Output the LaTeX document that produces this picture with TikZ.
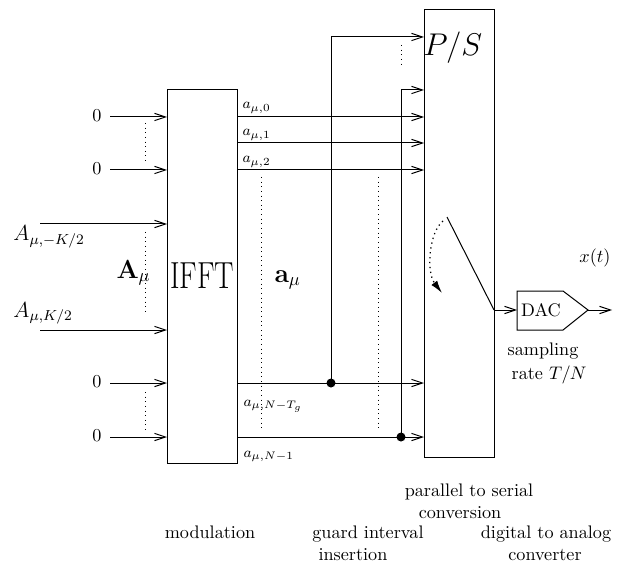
\documentclass[tikz,border=0pt]{standalone}
\usepackage{amsmath}
\usepackage{graphicx}
\usetikzlibrary{arrows.meta}
\begin{document}
\begin{tikzpicture}[x=0.55pt,y=-0.55pt,
  line width=0.55pt,
  arr/.style={-{Straight Barb[length=6pt,width=4pt]}},
  dotl/.style={dotted, line width=0.55pt},
  lbl/.style={inner sep=0pt},
  dotfill/.style={fill=black},
  ]
\useasboundingbox (0,0) rectangle (627,569);
% ---------- blocks
\coordinate (ifftNW) at (167,90);
\coordinate (ifftSE) at (237,463);
\draw (ifftNW) rectangle (ifftSE);
\coordinate (psNW) at (424,10);
\coordinate (psSE) at (494,457);
\draw (psNW) rectangle (psSE);
\node[lbl, anchor=base] (ifft) at (202,288) {\scalebox{0.77}[1]{\huge IFFT}};
\node[lbl, anchor=base] (pstext) at (453,56) {\LARGE $P/S$};
% ---------- inputs
\foreach \n/\y/\x in {i1/117/110, i2/170/110, i3/224/40, i4/330/40, i5/383/110, i6/437/110} {
  \coordinate (\n s) at (\x,\y);
  \coordinate (\n e) at (167,\y);
  \draw[arr] (\n s) -- (\n e);
}
\node[lbl] (z1) at (97,116) {0};
\node[lbl] (z2) at (97,169) {0};
\node[lbl] (z5) at (97,382) {0};
\node[lbl] (z6) at (97,436) {0};
\node[lbl, anchor=base west] (am) at (13,241) {\large $A_{\mu,-K/2}$};
\node[lbl, anchor=base west] (ap) at (13,317) {\large $A_{\mu,K/2}$};
\node[lbl, anchor=base west] (Amu) at (116,278) {\Large $\mathbf{A}_{\mu}$};
% left dotted
\coordinate (d1a) at (145,123); \coordinate (d1b) at (145,163);
\coordinate (d2a) at (145,232); \coordinate (d2b) at (145,312);
\coordinate (d3a) at (145,392); \coordinate (d3b) at (145,430);
\draw[dotl] (d1a) -- (d1b);
\draw[dotl] (d2a) -- (d2b);
\draw[dotl] (d3a) -- (d3b);
% ---------- outputs
\foreach \n/\y in {o1/117, o2/143, o3/170, o4/383, o5/437} {
  \coordinate (\n s) at (237,\y);
  \coordinate (\n e) at (424,\y);
  \draw[arr] (\n s) -- (\n e);
}
\node[lbl, anchor=base west] (a0) at (242,109) {\footnotesize $a_{\mu,0}$};
\node[lbl, anchor=base west] (a1) at (242,136) {\footnotesize $a_{\mu,1}$};
\node[lbl, anchor=base west] (a2) at (242,163) {\footnotesize $a_{\mu,2}$};
\node[lbl, anchor=base west] (aNT) at (243,406) {\footnotesize $a_{\mu,N-T_g}$};
\node[lbl, anchor=base west] (aN1) at (243,457) {\footnotesize $a_{\mu,N-1}$};
\node[lbl, anchor=base west] (amu) at (274,282) {\Large $\mathbf{a}_{\mu}$};
% middle dotted
\coordinate (m1a) at (261,177); \coordinate (m1b) at (261,428);
\coordinate (m2a) at (378,177); \coordinate (m2b) at (378,428);
\coordinate (m3a) at (401,45);  \coordinate (m3b) at (401,68);
\draw[dotl] (m1a) -- (m1b);
\draw[dotl] (m2a) -- (m2b);
\draw[dotl] (m3a) -- (m3b);
% ---------- guard interval
\coordinate (g1) at (331,383);
\coordinate (ps1) at (424,37);
\coordinate (g2) at (401,437);
\coordinate (ps2) at (424,90);
\draw[arr] (g1) |- (ps1);
\draw[arr] (g2) |- (ps2);
\fill[dotfill] (g1) circle[radius=4.5];
\fill[dotfill] (g2) circle[radius=4.5];
% ---------- switch
\coordinate (sw1) at (447,217);
\coordinate (sw2) at (494,310);
\draw (sw1) -- (sw2);
\coordinate (arcA) at (443,221);
\coordinate (arcB) at (442,293);
\draw[dotl, line width=0.7pt, -{Latex[length=7pt,width=4pt]}] (arcA) .. controls (429,232) and (426,272) .. (arcB);
% ---------- DAC
\coordinate (dacL) at (517,310);
\coordinate (dacT) at (588,310);
\coordinate (xout) at (612,310);
\draw (517,291) -- (563,291) -- (dacT) -- (563,330) -- (517,330) -- cycle;
\node[lbl] (dac) at (541,310) {DAC};
\draw[arr] (sw2) -- (dacL);
\draw[arr] (dacT) -- (xout);
\node[lbl] (xt) at (595,258) {$x(t)$};
\node[lbl, anchor=base] (samp) at (543,355) {sampling};
\node[lbl, anchor=base] (rate) at (549,379) {rate $T/N$};
% ---------- captions
\node[lbl, anchor=base] (c1) at (469,496) {parallel to serial};
\node[lbl, anchor=base] (c1b) at (460,518) {conversion};
\node[lbl, anchor=base] (c2) at (210,538) {modulation};
\node[lbl, anchor=base] (c3) at (368,538) {guard interval};
\node[lbl, anchor=base] (c3b) at (353,560) {insertion};
\node[lbl, anchor=base] (c4) at (546,538) {digital to analog};
\node[lbl, anchor=base] (c4b) at (545,560) {converter};
\end{tikzpicture}
\end{document}
